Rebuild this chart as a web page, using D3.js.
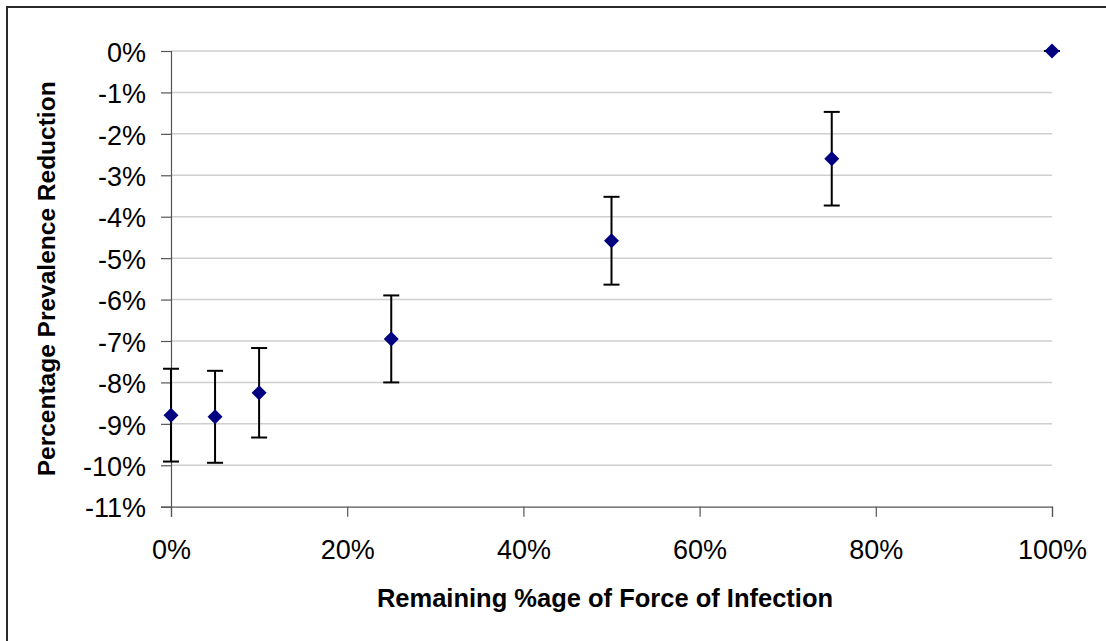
<!DOCTYPE html>
<html>
<head>
<meta charset="utf-8">
<script src="https://cdn.jsdelivr.net/npm/d3@7"></script>
<style>
  html, body { margin: 0; padding: 0; background: #fff; }
  svg { display: block; }
  text { font-family: "Liberation Sans", Arial, sans-serif; fill: #000; }
</style>
</head>
<body>
<svg id="chart" width="1106" height="641"></svg>
<script>
// Remaining force of infection (fraction) for each scenario
const remainingForce = [0, 0.05, 0.10, 0.25, 0.50, 0.75, 1.00];
// Mean percentage change in prevalence
const prevalenceChange = [-0.0879, -0.0883, -0.0825, -0.0695, -0.0458, -0.0260, 0.0];
// Half-width of the error bar around each mean
const errorHalfWidth = [0.0112, 0.0111, 0.0108, 0.0105, 0.0106, 0.0113, 0.0];

const xTicks = [0, 0.2, 0.4, 0.6, 0.8, 1.0];
const yTicks = [0, -0.01, -0.02, -0.03, -0.04, -0.05, -0.06, -0.07, -0.08, -0.09, -0.10, -0.11];

const svg = d3.select("#chart");
const plot = { left: 171, right: 1052, top: 51, bottom: 506.7 };

// Chart frame (only the left/top edges fall inside the view)
svg.append("rect")
  .attr("x", 7).attr("y", 7)
  .attr("width", 1200).attr("height", 1000)
  .attr("fill", "#fff")
  .attr("stroke", "#2a2a2a")
  .attr("stroke-width", 2);

const x = d3.scaleLinear().domain([0, 1]).range([plot.left, plot.right]);
const y = d3.scaleLinear().domain([-0.11, 0]).range([plot.bottom, plot.top]);
// Percent labels with a plain hyphen for negatives
const pct = v => d3.format(".0%")(v).replace("\u2212", "-");

// Horizontal gridlines
svg.append("g")
  .selectAll("line")
  .data(yTicks.filter(t => t !== -0.11))
  .join("line")
  .attr("x1", plot.left).attr("x2", plot.right)
  .attr("y1", d => y(d)).attr("y2", d => y(d))
  .attr("stroke", "#cfcfcf")
  .attr("stroke-width", 1.5);

// Y axis
const yAxis = svg.append("g")
  .attr("transform", `translate(${plot.left},0)`)
  .call(d3.axisLeft(y).tickValues(yTicks).tickFormat(pct).tickSize(10).tickPadding(15));
yAxis.select(".domain").attr("stroke", "#555").attr("stroke-width", 1.2);
yAxis.selectAll(".tick line").attr("stroke", "#555").attr("stroke-width", 1.2);
yAxis.selectAll(".tick text")
  .style("font-size", "27px")
  .style("font-family", "'Liberation Sans', Arial, sans-serif")
  .attr("fill", "#000")
  .attr("dy", "0.38em");

// X axis
const xAxis = svg.append("g")
  .attr("transform", `translate(0,${plot.bottom})`)
  .call(d3.axisBottom(x).tickValues(xTicks).tickFormat(pct).tickSize(10).tickPadding(23));
xAxis.select(".domain").attr("stroke", "#555").attr("stroke-width", 1.2);
xAxis.selectAll(".tick line").attr("stroke", "#555").attr("stroke-width", 1.2);
xAxis.selectAll(".tick text")
  .style("font-size", "27px")
  .style("font-family", "'Liberation Sans', Arial, sans-serif")
  .attr("fill", "#000");

// Axis titles
svg.append("text")
  .attr("x", 605)
  .attr("y", 607)
  .attr("text-anchor", "middle")
  .style("font-size", "25.5px")
  .style("font-weight", "bold")
  .text("Remaining %age of Force of Infection");

svg.append("text")
  .attr("transform", `translate(55,${(plot.top + plot.bottom) / 2}) rotate(-90)`)
  .attr("text-anchor", "middle")
  .style("font-size", "24.5px")
  .style("font-weight", "bold")
  .text("Percentage Prevalence Reduction");

// Error bars
const pts = remainingForce.map((f, i) => ({ f, v: prevalenceChange[i], e: errorHalfWidth[i] }));
const capHalf = 8;
const eb = svg.append("g").attr("stroke", "#000").attr("stroke-width", 2);
eb.selectAll("line.stem").data(pts).join("line").attr("class", "stem")
  .attr("x1", d => x(d.f)).attr("x2", d => x(d.f))
  .attr("y1", d => y(d.v + d.e)).attr("y2", d => y(d.v - d.e));
eb.selectAll("line.capTop").data(pts).join("line").attr("class", "capTop")
  .attr("x1", d => x(d.f) - capHalf).attr("x2", d => x(d.f) + capHalf)
  .attr("y1", d => y(d.v + d.e)).attr("y2", d => y(d.v + d.e));
eb.selectAll("line.capBot").data(pts).join("line").attr("class", "capBot")
  .attr("x1", d => x(d.f) - capHalf).attr("x2", d => x(d.f) + capHalf)
  .attr("y1", d => y(d.v - d.e)).attr("y2", d => y(d.v - d.e));

// Diamond markers
const r = 7.5;
svg.append("g").selectAll("path").data(pts).join("path")
  .attr("d", d => {
    const cx = x(d.f), cy = y(d.v);
    return `M${cx},${cy - r}L${cx + r},${cy}L${cx},${cy + r}L${cx - r},${cy}Z`;
  })
  .attr("fill", "#000080");
</script>
</body>
</html>
